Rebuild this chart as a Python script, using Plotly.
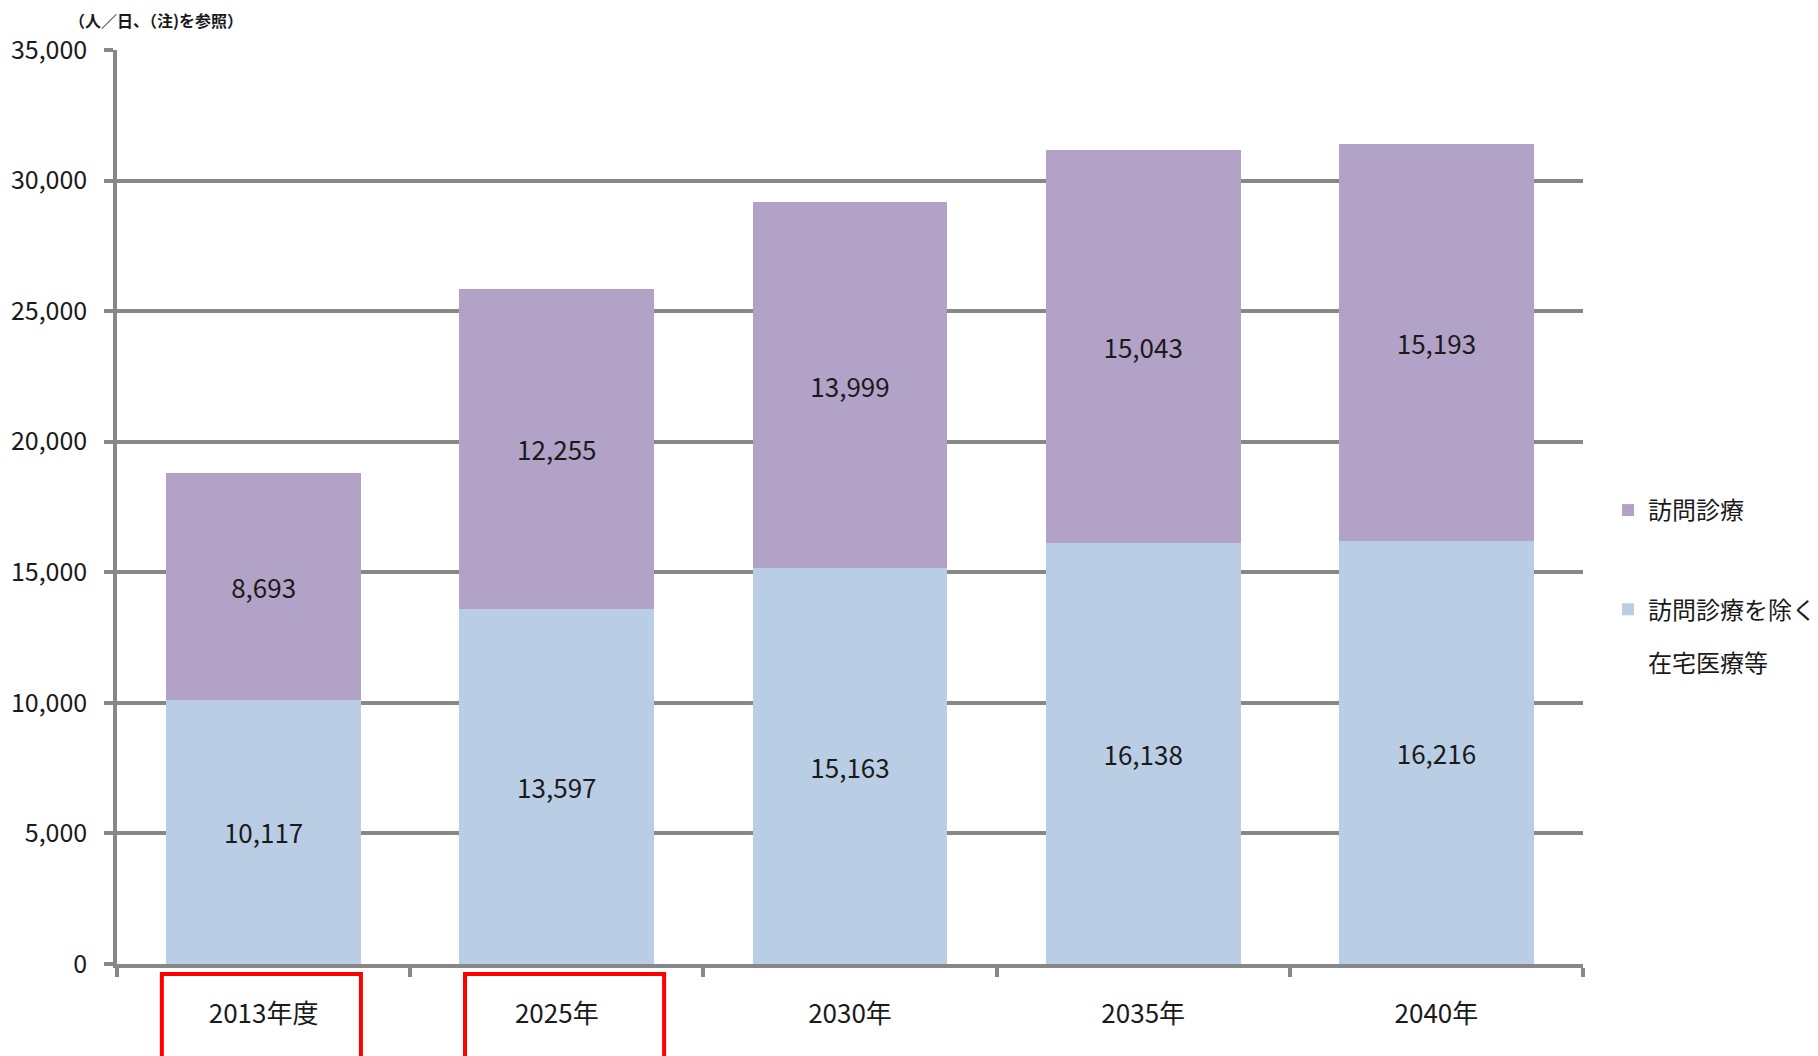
import plotly.graph_objects as go

categories = ["2013年度", "2025年", "2030年", "2035年", "2040年"]
home_care_other = [10117, 13597, 15163, 16138, 16216]
home_visit = [8693, 12255, 13999, 15043, 15193]
series_names = ["訪問診療を除く", "訪問診療"]
series_name_cont = "在宅医療等"  # second line of the first series' legend label
y_ticks = [0, 5000, 10000, 15000, 20000, 25000, 30000, 35000]
unit_label = "（人／日、（注)を参照）"

FONT = "Noto Sans CJK JP, sans-serif"
GRID = "#878787"
TXT = "#1a1a1a"

fig = go.Figure()
fig.add_trace(go.Bar(
    x=categories, y=home_care_other, name=series_names[0],
    marker=dict(color="#B9CDE5", line=dict(width=0)),
    text=[f"{v:,}" for v in home_care_other],
    textposition="inside", insidetextanchor="middle",
    textfont=dict(family=FONT, size=26, color=TXT),
    legendrank=2, legendgroup="b",
))
fig.add_trace(go.Bar(
    x=categories, y=home_visit, name=series_names[1],
    marker=dict(color="#B3A2C7", line=dict(width=0)),
    text=[f"{v:,}" for v in home_visit],
    textposition="inside", insidetextanchor="middle",
    textfont=dict(family=FONT, size=26, color=TXT),
    legendrank=1, legendgroup="a",
))

fig.update_layout(
    width=1810, height=1048,
    margin=dict(l=109, r=235, t=42, b=92),
    barmode="stack", bargap=0.335,
    plot_bgcolor="white", paper_bgcolor="white",
    font=dict(family=FONT, color=TXT),
    legend=dict(
        xref="container", yref="container",
        x=0.884, xanchor="left", y=0.542, yanchor="top",
        traceorder="grouped", tracegroupgap=65,
        font=dict(family=FONT, size=24, color=TXT),
        bgcolor="rgba(0,0,0,0)",
    ),
    showlegend=True,
)

fig.update_yaxes(
    range=[0, 35000], tickvals=y_ticks,
    ticktext=[f"{v:,}" for v in y_ticks],
    showgrid=True, gridcolor=GRID, gridwidth=3.5,
    showline=True, linecolor=GRID, linewidth=3.5,
    ticks="outside", ticklen=9, tickwidth=3.5, tickcolor=GRID,
    tickfont=dict(family=FONT, size=25, color=TXT),
    ticklabelstandoff=12,
    zeroline=False, automargin=False,
)
fig.update_xaxes(
    showline=True, linecolor=GRID, linewidth=3.5,
    ticks="outside", tickson="boundaries", ticklen=9, tickwidth=3.5, tickcolor=GRID,
    tickfont=dict(family=FONT, size=26, color=TXT),
    ticklabelstandoff=24, automargin=False,
)

fig.add_annotation(
    text=unit_label, xref="paper", yref="paper",
    x=-0.034, y=1.0, xanchor="left", yanchor="bottom", yshift=16,
    showarrow=False,
    font=dict(family=FONT, size=16, color=TXT, weight="bold"),
)

# continuation line of the two-line legend label
fig.add_annotation(
    text=series_name_cont, xref="paper", yref="paper",
    x=1.043, y=0.3315, xanchor="left", yanchor="middle",
    showarrow=False,
    font=dict(family=FONT, size=24, color=TXT),
)

# red highlight boxes around the first two category labels
for x0, x1 in [(-0.347, 0.332), (0.687, 1.366)]:
    fig.add_shape(
        type="rect", xref="x", yref="paper",
        x0=x0, x1=x1, y0=-0.13, y1=-0.011,
        line=dict(color="#ff0000", width=4), fillcolor="rgba(0,0,0,0)",
    )

fig.write_html("out.html")
